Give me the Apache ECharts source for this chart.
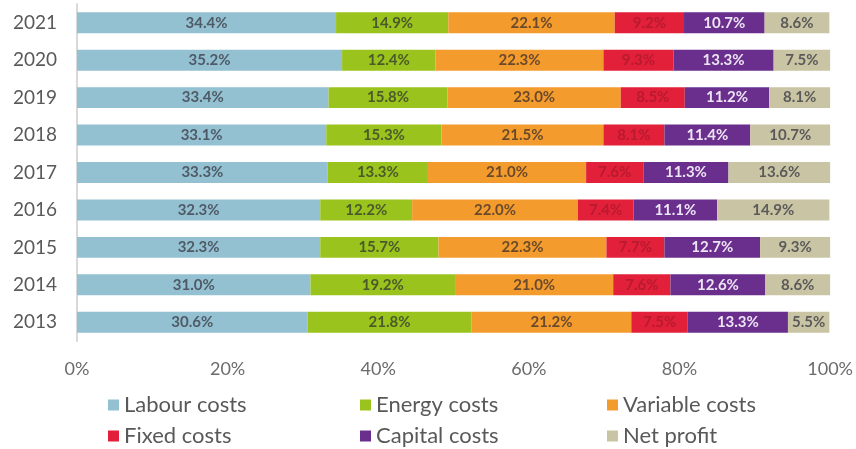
<!DOCTYPE html>
<html><head><meta charset="utf-8">
<script src="https://cdn.jsdelivr.net/npm/echarts@6/dist/echarts.min.js"></script>
<style>html,body{margin:0;padding:0;background:#fff}#c{width:856px;height:449px}</style>
</head><body><div id="c"></div>
<script>
const years = ['2013','2014','2015','2016','2017','2018','2019','2020','2021'];
const labour   = [30.6, 31.0, 32.3, 32.3, 33.3, 33.1, 33.4, 35.2, 34.4];
const energy   = [21.8, 19.2, 15.7, 12.2, 13.3, 15.3, 15.8, 12.4, 14.9];
const variable = [21.2, 21.0, 22.3, 22.0, 21.0, 21.5, 23.0, 22.3, 22.1];
const fixed    = [7.5, 7.6, 7.7, 7.4, 7.6, 8.1, 8.5, 9.3, 9.2];
const capital  = [13.3, 12.6, 12.7, 11.1, 11.3, 11.4, 11.2, 13.3, 10.7];
const profit   = [5.5, 8.6, 9.3, 14.9, 13.6, 10.7, 8.1, 7.5, 8.6];
const xTicks = [0, 20, 40, 60, 80, 100];

const FONT = 'Lato';
const seriesDefs = [
  {name:'Labour costs', data:labour, color:'#93c1d1', label:'#4f5a66'},
  {name:'Energy costs', data:energy, color:'#9bc31d', label:'#4a5a2a'},
  {name:'Variable costs', data:variable, color:'#f49b2e', label:'#6a4a2a'},
  {name:'Fixed costs', data:fixed, color:'#e2203a', label:'#b81a30'},
  {name:'Capital costs', data:capital, color:'#6a2f8c', label:'#ece4f4'},
  {name:'Net profit', data:profit, color:'#c9c4a3', label:'#5a5a5a'}
];
const legendPos = [[108,394],[360,394],[607,394],[108,425],[360,425],[607,425]];
const chart = echarts.init(document.getElementById('c'));
const legendStyle = {fontFamily:FONT, fontSize:22, color:'#595959'};
chart.setOption({
  animation:false,
  textStyle:{fontFamily:FONT},
  grid:{left:77, right:23, top:4, bottom:108},
  xAxis:{type:'value', min:0, max:100, interval:20,
    axisLine:{show:false}, axisTick:{show:false}, splitLine:{show:false},
    axisLabel:{margin:19, fontSize:18, color:'#6b6b6b', fontFamily:FONT,
      formatter:v=> xTicks.includes(v) ? v+'%' : ''}},
  yAxis:{type:'category', data:years,
    axisLine:{show:true, lineStyle:{color:'#d9d9d9', width:2}}, axisTick:{show:false},
    axisLabel:{margin:20, fontSize:19, color:'#595959', fontFamily:FONT}},
  legend: seriesDefs.map((s,i)=>({
    left:legendPos[i][0], top:legendPos[i][1], padding:0,
    itemWidth:11, itemHeight:11, itemGap:0, icon:'rect',
    textStyle:legendStyle, data:[s.name]
  })),
  series: seriesDefs.map(s=>({
    name:s.name, type:'bar', stack:'t', data:s.data, barWidth:'56%',
    itemStyle:{color:s.color},
    label:{show:true, position:'inside', fontSize:15, fontWeight:'bold', fontFamily:FONT, color:s.label,
      formatter:p=>p.value.toFixed(1)+'%'}
  }))
});
</script></body></html>
